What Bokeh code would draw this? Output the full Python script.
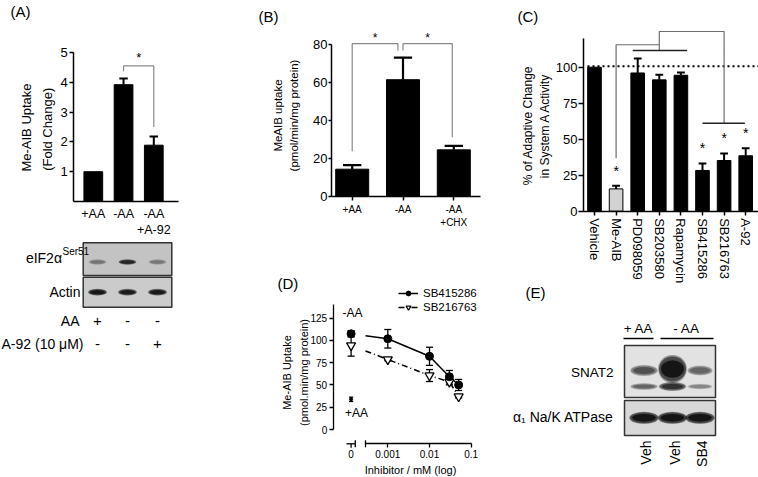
import numpy as np
from math import pi
from bokeh.plotting import figure
from bokeh.models import Range1d, FixedTicker, Label, Legend, LegendItem, LinearAxis
from bokeh.embed import file_html
from bokeh.resources import INLINE
from bokeh.core.properties import value

FONT = "Liberation Sans"

# ---------------- data ----------------
# (A) Me-AIB uptake, fold change
a_cats = ["+AA", "-AA", "-AA\n+A-92"]
a_vals = [1.0, 3.92, 1.89]
a_err = [0.0, 0.21, 0.29]
a_yticks = [1, 2, 3, 4, 5]
a_bracket_x = [2, 2, 3, 3]
a_bracket_y = [4.37, 4.55, 4.55, 2.5]

# (A) blot
blotA_eif2 = [0.30, 0.80, 0.28]
blotA_actin = [0.95, 0.90, 0.92]
blotA_AA = ["+", "-", "-"]
blotA_A92 = ["-", "-", "+"]

# (B) MeAIB uptake pmol/min/mg protein
b_cats = ["+AA", "-AA", "-AA\n+CHX"]
b_vals = [14.4, 61.6, 24.6]
b_err = [2.1, 11.6, 2.1]
b_yticks = [0, 20, 40, 60, 80]
b_brackets_x = [[1, 1, 1.9, 1.9], [2, 2, 2.97, 2.97]]
b_brackets_y = [[23.9, 80.6, 80.6, 77.0], [77.0, 80.6, 80.6, 31.3]]

# (C) % of adaptive change in System A activity
c_cats = ["Vehicle", "Me-AIB", "PD098059", "SB203580", "Rapamycin",
          "SB415286", "SB216763", "A-92"]
c_vals = [100.0, 15.5, 96.0, 91.2, 94.4, 28.3, 35.2, 38.5]
c_err = [0.0, 2.1, 10.0, 3.5, 1.9, 4.8, 4.8, 5.3]
c_fill = ["black", "#d2d2d2", "black", "black", "black", "black", "black", "black"]
c_sig = [False, True, False, False, False, True, True, True]
c_yticks = [0, 25, 50, 75, 100]
c_ref = 100.7
c_conn_x = [[2, 2, 4], [4, 4, 7, 7]]
c_conn_y = [[36.8, 115.6, 115.6], [111.6, 124.8, 124.8, 61.1]]
c_grp_x = [[2.77, 5.29], [6.0, 7.96]]
c_grp_y = [[111.6, 111.6], [61.1, 61.1]]

# (D) dose response
d_conc = [0.001, 0.01, 0.03, 0.05]
d_sb415 = [101.9, 82.2, 59.3, 50.0]
d_sb415_err = [10.4, 10.2, 7.0, 6.2]
d_sb415_ctrl, d_sb415_ctrl_err = 107.5, 3.5
d_sb216 = [78.7, 60.6, 53.5, 37.0]
d_sb216_err = [1.5, 6.7, 3.3, 1.5]
d_sb216_ctrl, d_sb216_ctrl_err = 94.4, 12.0
d_plusAA, d_plusAA_err = 33.9, 2.4
d_xticks = [0.001, 0.01, 0.1]
d_xlabels = ["0.001", "0.01", "0.1"]
d_yticks = [0, 25, 50, 75, 100, 125]

# (E) blot
e_lanes = ["Veh", "Veh", "SB4"]
e_snat2_up = [0.55, 1.0, 0.45]
e_snat2_lo = [0.45, 0.75, 0.30]
e_atpase = [1.0, 1.0, 1.0]

# ---------------- canvas ----------------
W, H = 758, 477
XR, YR = {}, {}


class Panel:
    """Own x/y scales of one sub-chart: value xv sits at page pixel xpx, sx px per unit."""

    def __init__(self, name, xv, xpx, sx, yv, ypy, sy):
        self.name, self.sx, self.sy = name, sx, sy
        self.xs = xv - xpx / sx
        self.ys = yv - (H - ypy) / sy
        XR[name] = Range1d(self.xs, self.xs + W / sx)
        YR[name] = Range1d(self.ys, self.ys + H / sy)
        self.kw = dict(x_range_name=name, y_range_name=name)

    def x(self, px):
        return self.xs + px / self.sx

    def y(self, py):
        return self.ys + (H - py) / self.sy


pa = Panel("A", 1, 92.8, 30.25, 0, 201, 29.8)
pb = Panel("B", 1, 351.7, 50.8, 0, 196, 1.896)
pc = Panel("C", 1, 594, 21.6, 0, 210.7, 1.44)
pd_ = Panel("D", -3, 387.3, 41.7, 0, 429, 0.8904)

p = figure(width=W, height=H, x_range=Range1d(0, W), y_range=Range1d(0, H),
           x_axis_type=None, y_axis_type=None, min_border=0,
           output_backend="svg", toolbar_location=None)
p.outline_line_color = None
p.extra_x_ranges = XR
p.extra_y_ranges = YR


def PY(py):
    return H - py


def lab(x, y, text, size, align="left", baseline="middle", angle=0, lh=1.2):
    p.add_layout(Label(x=x, y=PY(y), text=text, text_font=FONT, text_font_size=size,
                       text_align=align, text_baseline=baseline, angle=angle,
                       text_color="black", text_line_height=lh))


def axis(panel, side, loc, bounds, ticks, tick_size, tick_out=4, standoff=2,
         overrides=None, orientation=None, lw=1.5):
    ax = LinearAxis(fixed_location=loc, bounds=bounds, ticker=FixedTicker(ticks=ticks),
                    **panel.kw)
    ax.axis_line_width = lw
    ax.axis_line_color = "black"
    ax.major_tick_line_width = lw
    ax.major_tick_line_color = "black" if tick_out > 0 else None
    ax.major_tick_in = 0
    ax.major_tick_out = tick_out
    ax.minor_tick_line_color = None
    ax.major_label_text_font = FONT
    ax.major_label_text_font_size = tick_size
    ax.major_label_text_color = "black"
    ax.major_label_standoff = standoff
    if overrides:
        ax.major_label_overrides = overrides
    if orientation:
        ax.major_label_orientation = orientation
    p.add_layout(ax, side)
    return ax


def err_bars(panel, xs, tops, errs, half, lw=2, both=False):
    xs = np.asarray(xs, float)
    tops = np.asarray(tops, float)
    errs = np.asarray(errs, float)
    m = errs > 0
    xs, tops, errs = xs[m], tops[m], errs[m]
    lo = tops - errs if both else tops
    hi = tops + errs
    p.segment(x0=xs, y0=lo, x1=xs, y1=hi, line_color="black", line_width=lw, **panel.kw)
    p.segment(x0=xs - half, y0=hi, x1=xs + half, y1=hi, line_color="black",
              line_width=lw, **panel.kw)
    if both:
        p.segment(x0=xs - half, y0=lo, x1=xs + half, y1=lo, line_color="black",
                  line_width=lw, **panel.kw)


def bands(xs, ys, ws, hs, inten):
    xs, ws, hs, inten = [np.asarray(v, float) for v in (xs, ws, hs, inten)]
    ys = PY(np.asarray(ys, float))
    for sw, sh, a in [(1.06, 1.12, 0.35), (1.0, 1.0, 0.5), (0.85, 0.7, 0.7)]:
        p.ellipse(x=xs, y=ys, width=ws * sw, height=hs * sh, fill_color="black",
                  fill_alpha=a * inten, line_color=None)


def stars(panel, xs, ys, size):
    p.text(x=xs, y=ys, text=["*"] * len(xs), text_font=value(FONT), text_font_size=size,
           text_align="center", text_baseline="middle", **panel.kw)


# ---------------- (A) chart ----------------
xa = [1, 2, 3]
p.vbar(x=xa, top=a_vals, width=0.62, fill_color="black", line_color="black", **pa.kw)
err_bars(pa, xa, a_vals, a_err, 0.14, lw=2)
p.line(x=a_bracket_x, y=a_bracket_y, line_color="#8a8a8a", line_width=1.2, **pa.kw)
stars(pa, [2.5], [4.83], "13px")
axis(pa, "below", 0, (pa.x(73.3), pa.x(178)), xa, "12.5px", tick_out=0, standoff=5,
     overrides={i: c for i, c in zip(xa, a_cats)})
axis(pa, "left", pa.x(73.3), (0, 5), a_yticks, "13px", tick_out=4, standoff=2)
lab(36, 127, "Me-AIB Uptake\n(Fold  Change)", "13px", align="center", angle=pi / 2, lh=1.4)
lab(10, 11, "(A)", "15px")

# ---------------- (A) blot ----------------
laneA = [97 + 30 * i for i in range(3)]
p.quad(left=[82.7, 82.7], right=[171.3, 171.3], top=[PY(242.3), PY(276.7)],
       bottom=[PY(275), PY(306.7)], fill_color=["#c3c3c3", "#cbcbcb"],
       line_color="#333333", line_width=1.5)
bands(laneA, [261.5] * 3, [17] * 3, [5] * 3, blotA_eif2)
bands(laneA, [291.7] * 3, [18] * 3, [6] * 3, blotA_actin)
lab(61.5, 257.5, "eIF2\u03b1", "14px", align="right")
lab(62, 245, "Ser51", "10px", align="left", baseline="top")
lab(80, 291.7, "Actin", "14px", align="right")
lab(79, 320, "AA", "14px", align="right")
lab(83, 343, "A-92 (10 \u03bcM)", "14px", align="right")
for i in range(3):
    lab(laneA[i], 320, blotA_AA[i], "15px", align="center")
    lab(laneA[i], 343, blotA_A92[i], "15px", align="center")

# ---------------- (B) chart ----------------
xb = [1, 2, 3]
p.vbar(x=xb, top=b_vals, width=0.65, fill_color="black", line_color="black", **pb.kw)
err_bars(pb, xb, b_vals, b_err, 0.18, lw=2.2)
p.multi_line(xs=b_brackets_x, ys=b_brackets_y, line_color="#8a8a8a", line_width=1.2, **pb.kw)
stars(pb, [1.45, 2.485], [83.8, 83.8], "12px")
axis(pb, "below", 0, (pb.x(331), pb.x(480)), xb, "10px", tick_out=4, standoff=3,
     overrides={i: c for i, c in zip(xb, b_cats)})
axis(pb, "left", pb.x(331), (0, 80), b_yticks, "13px", tick_out=3, standoff=1)
lab(285.5, 115, "MeAIB uptake\n(pmol/min/mg protein)", "11.5px", align="center",
    angle=pi / 2, lh=1.3)
lab(258, 16, "(B)", "15px")

# ---------------- (C) chart ----------------
xc = list(range(1, len(c_cats) + 1))
p.vbar(x=xc, top=c_vals, width=0.63, fill_color=c_fill, line_color="black", line_width=1,
       **pc.kw)
err_bars(pc, xc, c_vals, c_err, 0.18, lw=2)
p.line(x=[pc.x(587), pc.x(758)], y=[c_ref, c_ref], line_color="black", line_width=2,
       line_dash="2 3", **pc.kw)
p.multi_line(xs=c_conn_x, ys=c_conn_y, line_color="#6e6e6e", line_width=1.2, **pc.kw)
p.multi_line(xs=c_grp_x, ys=c_grp_y, line_color="#222222", line_width=1.6, **pc.kw)
sx = [x for x, s in zip(xc, c_sig) if s]
sy = [v + e + 10.5 for v, e, s in zip(c_vals, c_err, c_sig) if s]
stars(pc, sx, sy, "14px")
axis(pc, "below", 0, (pc.x(583), pc.x(758)), xc, "13px", tick_out=4, standoff=3,
     overrides={i: c for i, c in zip(xc, c_cats)}, orientation="vertical")
axis(pc, "left", pc.x(583), (0, 120), c_yticks, "13px", tick_out=5, standoff=1)
lab(536, 125, "% of Adaptive Change\nin System A Activity", "12px", align="center",
    angle=pi / 2, lh=1.17)
lab(517, 16, "(C)", "15px")

# ---------------- (D) chart ----------------
lx = np.log10(d_conc)
x_zero = -3.88     # position of the "0" (no inhibitor) group on the broken axis
x_break = -3.535   # start of the log segment of the axis
y_axis_loc = pd_.y(443.3)


def seg_line(ctrl, vals):
    yb = float(np.interp(x_break, [x_zero, lx[0]], [ctrl, vals[0]]))
    return [x_break] + list(lx), [yb] + list(vals)


lx1, ly1 = seg_line(d_sb415_ctrl, d_sb415)
lx2, ly2 = seg_line(d_sb216_ctrl, d_sb216)
l1 = p.line(x=lx1, y=ly1, line_color="black", line_width=1.5, **pd_.kw)
l2 = p.line(x=lx2, y=ly2, line_color="black", line_width=1.5, line_dash="6 3 1 3", **pd_.kw)
cap = 0.085
err_bars(pd_, list(lx) + [x_zero], d_sb415 + [d_sb415_ctrl],
         d_sb415_err + [d_sb415_ctrl_err], cap, lw=1.3, both=True)
err_bars(pd_, list(lx) + [x_zero], d_sb216 + [d_sb216_ctrl],
         d_sb216_err + [d_sb216_ctrl_err], cap, lw=1.3, both=True)
err_bars(pd_, [x_zero], [d_plusAA], [d_plusAA_err], 0.05, lw=1.3, both=True)
s2 = p.scatter(x=list(lx) + [x_zero], y=d_sb216 + [d_sb216_ctrl], marker="inverted_triangle",
               size=9, fill_color="white", line_color="black", line_width=1.3, **pd_.kw)
s1 = p.scatter(x=list(lx) + [x_zero], y=d_sb415 + [d_sb415_ctrl], marker="circle",
               size=8, fill_color="black", line_color="black", **pd_.kw)
p.scatter(x=[x_zero], y=[d_plusAA], marker="circle", size=3, fill_color="black",
          line_color="black", **pd_.kw)
lab(352, 312, "-AA", "12px", align="center")
lab(356, 412, "+AA", "12px", align="center")
leg = Legend(items=[LegendItem(label="SB415286", renderers=[l1, s1]),
                    LegendItem(label="SB216763", renderers=[l2, s2])],
             location=(398, H - 313), padding=0, spacing=2, margin=0, label_height=12,
             glyph_height=12, glyph_width=20, label_standoff=5,
             label_text_font=FONT, label_text_font_size="11.5px", label_text_color="black",
             border_line_color=None, background_fill_alpha=0)
p.add_layout(leg)
axis(pd_, "below", y_axis_loc, (x_break, -1), [-3, -2, -1], "10px", tick_out=4, standoff=2,
     overrides={int(round(np.log10(t))): s for t, s in zip(d_xticks, d_xlabels)}, lw=1.3)
axis(pd_, "left", pd_.x(332.7), (0, 140), d_yticks, "10px", tick_out=4, standoff=2, lw=1.3)
# short axis segment that carries the "0" group, left of the axis break
t3 = 3.5 / pd_.sy
p.segment(x0=[-3.99, -3.78, x_break, x_zero],
          y0=[y_axis_loc, y_axis_loc - t3, y_axis_loc - t3, y_axis_loc],
          x1=[-3.78, -3.78, x_break, x_zero],
          y1=[y_axis_loc, y_axis_loc + t3, y_axis_loc + t3, y_axis_loc - 4 / pd_.sy],
          line_color="black", line_width=1.3, **pd_.kw)
lab(350.6, 449.5, "0", "10px", align="center", baseline="top")
lab(295, 372, "Me-AIB Uptake\n(pmol.min/mg protein)", "11px", align="center",
    angle=pi / 2, lh=1.45)
lab(410, 469, "Inhibitor / mM (log)", "11px", align="center")
lab(277, 283, "(D)", "15px")

# ---------------- (E) blot ----------------
laneE = [643.5, 672, 699.5]
p.quad(left=[624, 624], right=[715, 715], top=[PY(345), PY(400)],
       bottom=[PY(397), PY(435)], fill_color=["#e2e2e2", "#d8d8d8"],
       line_color="#333333", line_width=1.5)
bands(laneE, [370, 368.5, 370], [26, 27, 24], [10, 25, 9], e_snat2_up)
bands(laneE, [386] * 3, [26, 26, 24], [6, 8, 5], e_snat2_lo)
bands(laneE, [417.3] * 3, [28, 28, 28], [11, 11, 11], e_atpase)
lab(638, 328, "+ AA", "13.5px", align="center")
lab(686, 328, "- AA", "13.5px", align="center")
p.segment(x0=[623, 660], y0=[PY(338)] * 2, x1=[653, 713], y1=[PY(338)] * 2,
          line_color="black", line_width=1.5)
lab(613, 372, "SNAT2", "13.5px", align="right")
lab(613, 416, "\u03b1\u2081 Na/K ATPase", "14px", align="right")
for i, t in enumerate(e_lanes):
    lab(laneE[i] + 2, 440, t, "14px", align="right", angle=pi / 2)
lab(525, 292, "(E)", "15px")

open("out.html", "w").write(file_html(p, INLINE))
